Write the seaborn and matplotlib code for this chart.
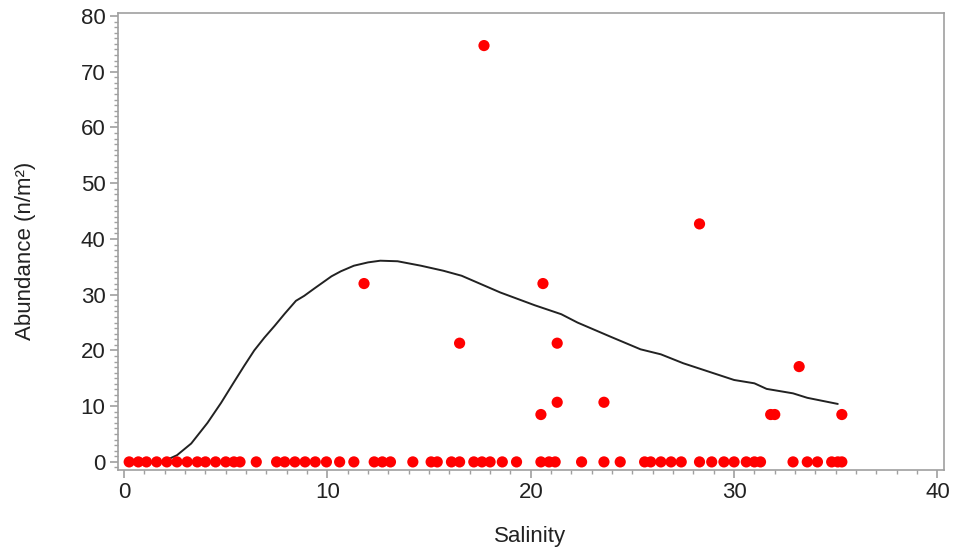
import pandas as pd
import matplotlib.pyplot as plt
import seaborn as sns
from matplotlib.ticker import MultipleLocator

# salinity of stations with no catch (abundance = 0)
zero_salinity = [0.25, 0.7, 1.1, 1.6, 2.1, 2.6, 3.1, 3.6, 4.0, 4.5, 5.0, 5.4, 5.7,
                 6.5, 7.5, 7.9, 8.4, 8.9, 9.4, 9.95, 10.6, 11.3, 12.3, 12.7, 13.1,
                 14.2, 15.1, 15.4, 16.1, 16.5, 17.2, 17.6, 18.0, 18.6, 19.3, 20.5,
                 20.9, 21.2, 22.5, 23.6, 24.4, 25.6, 25.9, 26.4, 26.9, 27.4, 28.3,
                 28.9, 29.5, 30.0, 30.6, 31.0, 31.3, 32.9, 33.6, 34.1, 34.8, 35.1, 35.3]

# stations with a catch
pos_salinity = [11.8, 17.7, 16.5, 20.6, 20.5, 21.3, 21.3, 23.6, 28.3, 31.8, 32.0, 33.2, 35.3]
pos_abundance = [32.0, 74.7, 21.3, 32.0, 8.5, 21.3, 10.7, 10.7, 42.7, 8.5, 8.5, 17.1, 8.5]

# fitted curve
fit_salinity = [0.5, 1.0, 1.5, 2.0, 2.6, 3.3, 4.1, 4.77, 5.4, 5.9, 6.4, 6.9, 7.4,
                7.9, 8.45, 8.86, 9.35, 10.2, 10.66, 11.3, 12.0, 12.6, 13.45, 14.6,
                15.7, 16.6, 18.5, 20.2, 21.5, 22.3, 23.9, 25.4, 26.4, 27.5, 29.0,
                30.0, 31.0, 31.6, 32.9, 33.6, 35.1]
fit_abundance = [-0.2, -0.2, -0.1, 0.2, 1.2, 3.3, 7.0, 10.6, 14.3, 17.2, 20.0, 22.3,
                 24.4, 26.6, 28.9, 29.8, 31.1, 33.3, 34.2, 35.2, 35.8, 36.1, 36.0,
                 35.2, 34.3, 33.4, 30.4, 28.1, 26.5, 25.0, 22.5, 20.2, 19.3, 17.7,
                 15.9, 14.7, 14.1, 13.1, 12.3, 11.5, 10.4]

points = pd.DataFrame({
    'Salinity': zero_salinity + pos_salinity,
    'Abundance': [0.0] * len(zero_salinity) + pos_abundance,
})
fit = pd.DataFrame({'Salinity': fit_salinity, 'Abundance': fit_abundance})

sns.set_style('white')
plt.rcParams['font.family'] = ['Liberation Sans', 'DejaVu Sans']

fig = plt.figure(figsize=(9.54, 5.56), dpi=100)
ax = fig.add_axes([0.1237, 0.1547, 0.8653, 0.8220])

sns.lineplot(data=fit, x='Salinity', y='Abundance', color='#222222', linewidth=1.4,
             sort=False, ax=ax)
sns.scatterplot(data=points, x='Salinity', y='Abundance', color='#ff0000', s=65,
                edgecolor='none', linewidth=0, ax=ax, zorder=3)

ax.set_xlim(-0.3, 40.3)
ax.set_ylim(-1.45, 80.55)
ax.xaxis.set_major_locator(MultipleLocator(10))
ax.xaxis.set_minor_locator(MultipleLocator(1))
ax.yaxis.set_major_locator(MultipleLocator(10))
ax.yaxis.set_minor_locator(MultipleLocator(1))

for s in ax.spines.values():
    s.set_color('#a0a0a0')
    s.set_linewidth(1.2)

ax.tick_params(which='major', direction='out', length=6, width=1.2, color='#a0a0a0',
               labelsize=16, labelcolor='#222222', pad=3)
ax.tick_params(which='minor', direction='out', length=3, width=1, color='#a0a0a0')
ax.tick_params(top=False, right=False, which='both')
ax.tick_params(axis='y', which='both', left=True)
ax.tick_params(axis='x', which='both', bottom=True)

ax.set_xlabel('Salinity', fontsize=16, color='#222222')
ax.set_ylabel('Abundance (n/m²)', fontsize=16, color='#222222')
ax.xaxis.set_label_coords(0.499, -0.122)
ax.yaxis.set_label_coords(-0.099, 0.48)

fig.savefig('out.png', dpi=100)
